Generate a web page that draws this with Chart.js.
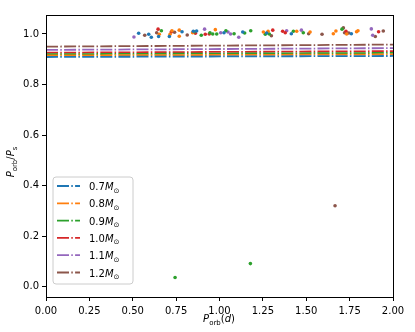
<!DOCTYPE html>
<html>
<head>
<meta charset="utf-8">
<script src="https://cdn.jsdelivr.net/npm/chart.js@4"></script>
<style>
  html, body { margin: 0; padding: 0; background: #fff; }
  #wrap { width: 415px; height: 332px; }
</style>
</head>
<body>
<div id="wrap"><canvas id="chart" width="415" height="332"></canvas></div>
<script>
// Stellar masses and colours
const massLabels = ['0.7', '0.8', '0.9', '1.0', '1.1', '1.2'];
const colors = ['#1f77b4', '#ff7f0e', '#2ca02c', '#d62728', '#9467bd', '#8c564b'];

// dash-dot reference lines, value at P_orb = 0 and P_orb = 2
const lineX = [0, 2];
const line07 = [0.909, 0.913];
const line08 = [0.915, 0.919];
const line09 = [0.920, 0.925];
const line10 = [0.926, 0.932];
const line11 = [0.937, 0.944];
const line12 = [0.950, 0.958];

// scatter points per mass
const pts07X = [0.534, 0.592, 0.607, 0.649, 0.711, 0.784, 0.849, 0.868, 1.026, 1.134, 1.272, 1.414, 1.760];
const pts07Y = [1.003, 0.999, 0.987, 0.990, 0.990, 1.009, 1.011, 1.012, 1.005, 1.008, 1.004, 1.001, 1.001];
const pts08X = [0.653, 0.715, 0.726, 0.768, 0.768, 0.845, 0.976, 1.253, 1.280, 1.445, 1.522, 1.656, 1.671, 1.733, 1.790, 1.798];
const pts08Y = [0.999, 0.999, 1.013, 1.015, 0.991, 1.005, 1.017, 1.008, 1.011, 1.011, 1.008, 1.001, 1.012, 1.000, 1.009, 1.013];
const pts09X = [0.665, 0.853, 0.895, 0.945, 0.961, 0.984, 1.037, 1.084, 1.145, 1.180, 1.264, 1.287, 1.426, 1.483, 1.706, 0.744, 1.178];
const pts09Y = [1.013, 1.008, 0.995, 1.005, 1.000, 1.000, 1.013, 1.001, 1.004, 1.013, 0.999, 1.000, 1.011, 1.005, 1.019, 0.037, 0.092];
const pts10X = [0.646, 0.722, 0.861, 0.918, 0.941, 1.307, 1.364, 1.379, 1.729, 1.917];
const pts10Y = [1.019, 1.008, 1.003, 0.999, 1.000, 1.015, 1.011, 1.005, 1.011, 1.009];
const pts11X = [0.507, 0.914, 1.007, 1.049, 1.064, 1.111, 1.387, 1.472, 1.875, 1.883];
const pts11Y = [0.988, 1.019, 1.005, 1.008, 1.000, 0.987, 1.013, 1.015, 1.020, 0.995];
const pts12X = [0.569, 0.638, 0.741, 0.814, 1.299, 1.514, 1.591, 1.714, 1.721, 1.745, 1.898, 1.944, 1.666];
const pts12Y = [0.995, 1.005, 1.007, 0.996, 0.993, 1.001, 0.999, 1.024, 1.005, 1.004, 0.990, 1.012, 0.321];

// axis ticks
const xTicks = [0, 0.25, 0.5, 0.75, 1.0, 1.25, 1.5, 1.75, 2.0];
const yTicks = [0, 0.2, 0.4, 0.6, 0.8, 1.0];

const FONT = "'DejaVu Sans', sans-serif";
const lineSets = [line07, line08, line09, line10, line11, line12];
const ptSets = [[pts07X, pts07Y], [pts08X, pts08Y], [pts09X, pts09Y], [pts10X, pts10Y], [pts11X, pts11Y], [pts12X, pts12Y]];
const dashDot = [12, 2.3, 1.5, 2.3];

const zip = (xs, ys) => xs.map((x, i) => ({ x, y: ys[i] }));

const datasets = [];
lineSets.forEach((ys, i) => {
    datasets.push({
        type: 'line',
        label: massLabels[i],
        data: zip(lineX, ys),
        borderColor: colors[i],
        borderWidth: 1.8,
        borderDash: dashDot,
        pointRadius: 0,
        fill: false,
        order: 2
    });
});
ptSets.forEach(([xs, ys], i) => {
    datasets.push({
        type: 'scatter',
        label: 'pts ' + massLabels[i],
        data: zip(xs, ys),
        backgroundColor: colors[i],
        borderWidth: 0,
        pointRadius: 1.8,
        order: 1
    });
});

// text with italic / subscript pieces
function drawRich(ctx, parts, x, y, align) {
    const fontFor = p => (p.italic ? 'italic ' : '') + (p.sub ? '7px ' : '10px ') + FONT;
    let total = 0;
    parts.forEach(p => { ctx.font = fontFor(p); total += ctx.measureText(p.t).width; });
    let cx = align === 'center' ? x - total / 2 : x;
    ctx.textAlign = 'left';
    ctx.textBaseline = 'alphabetic';
    parts.forEach(p => {
        ctx.font = fontFor(p);
        ctx.fillText(p.t, cx, p.sub ? y + 2.5 : y);
        cx += ctx.measureText(p.t).width;
    });
}

const decorPlugin = {
    id: 'decor',
    afterDraw(chart) {
        const ctx = chart.ctx;
        const a = chart.chartArea;
        ctx.save();
        // frame
        ctx.strokeStyle = '#000';
        ctx.lineWidth = 1;
        ctx.strokeRect(a.left + 0.5, a.top + 0.5, a.right - a.left, a.bottom - a.top);

        ctx.fillStyle = '#000';
        // x title
        drawRich(ctx, [{ t: 'P', italic: true }, { t: 'orb', sub: true }, { t: '(' }, { t: 'd', italic: true }, { t: ')' }], 219, 322, 'center');
        // y title
        ctx.save();
        ctx.translate(14, 162);
        ctx.rotate(-Math.PI / 2);
        drawRich(ctx, [{ t: 'P', italic: true }, { t: 'orb', sub: true }, { t: '/' }, { t: 'P', italic: true }, { t: 's', sub: true }], 0, 0, 'center');
        ctx.restore();

        // legend box
        const bx = 53, by = 177, bw = 80, bh = 107, r = 3;
        ctx.beginPath();
        ctx.moveTo(bx + r, by);
        ctx.arcTo(bx + bw, by, bx + bw, by + bh, r);
        ctx.arcTo(bx + bw, by + bh, bx, by + bh, r);
        ctx.arcTo(bx, by + bh, bx, by, r);
        ctx.arcTo(bx, by, bx + bw, by, r);
        ctx.closePath();
        ctx.fillStyle = 'rgba(255,255,255,0.8)';
        ctx.fill();
        ctx.strokeStyle = '#cccccc';
        ctx.lineWidth = 1;
        ctx.stroke();

        massLabels.forEach((m, i) => {
            const yy = 186 + i * 17.3;
            ctx.beginPath();
            ctx.setLineDash(dashDot);
            ctx.strokeStyle = colors[i];
            ctx.lineWidth = 1.8;
            ctx.moveTo(57, yy);
            ctx.lineTo(80, yy);
            ctx.stroke();
            ctx.setLineDash([]);
            ctx.fillStyle = '#000';
            drawRich(ctx, [{ t: m }, { t: 'M', italic: true }, { t: '\u2299', sub: true }], 89, yy + 4, 'left');
        });
        ctx.restore();
    }
};

new Chart(document.getElementById('chart'), {
    type: 'scatter',
    data: { datasets },
    plugins: [decorPlugin],
    options: {
        responsive: false,
        animation: false,
        layout: { padding: { top: 15, right: 22, left: 0, bottom: 0 } },
        plugins: { legend: { display: false }, tooltip: { enabled: false } },
        scales: {
            x: {
                type: 'linear',
                min: 0,
                max: 2,
                afterBuildTicks(scale) { scale.ticks = xTicks.map(v => ({ value: v })); },
                afterFit(scale) { scale.height = 35; },
                grid: { drawOnChartArea: false, drawTicks: true, tickLength: 4, color: '#000', lineWidth: 1 },
                border: { display: false },
                ticks: {
                    color: '#000',
                    padding: 4,
                    maxRotation: 0,
                    font: { family: FONT, size: 10 },
                    callback: v => v.toFixed(2)
                }
            },
            y: {
                type: 'linear',
                min: -0.04,
                max: 1.075,
                afterBuildTicks(scale) { scale.ticks = yTicks.map(v => ({ value: v })); },
                afterFit(scale) { scale.width = 46; },
                grid: { drawOnChartArea: false, drawTicks: true, tickLength: 4, color: '#000', lineWidth: 1 },
                border: { display: false },
                ticks: {
                    color: '#000',
                    padding: 3,
                    font: { family: FONT, size: 10 },
                    callback: v => v.toFixed(1)
                }
            }
        }
    }
});
</script>
</body>
</html>
